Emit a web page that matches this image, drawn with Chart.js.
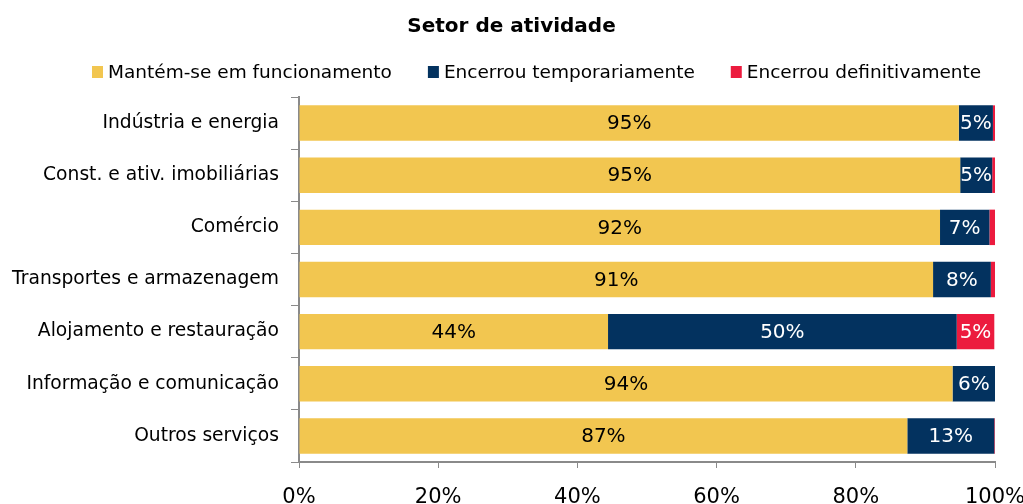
<!DOCTYPE html>
<html lang="pt">
<head>
  <meta charset="UTF-8" />
  <title>Setor de atividade</title>
  <script src="https://cdn.jsdelivr.net/npm/chart.js"></script>
  <style>
    html, body { margin: 0; padding: 0; background: #fff; }
    #wrap { width: 1023px; height: 504px; }
  </style>
</head>
<body>
<div id="wrap"><canvas id="grafico"></canvas></div>
<script>
  const setores = [
    "Indústria e energia",
    "Const. e ativ. imobiliárias",
    "Comércio",
    "Transportes e armazenagem",
    "Alojamento e restauração",
    "Informação e comunicação",
    "Outros serviços"
  ];
  const mantem = [94.8, 95.0, 92.1, 91.1, 44.4, 93.9, 87.4];
  const temporario = [4.9, 4.6, 7.1, 8.3, 50.1, 6.1, 12.5];
  const definitivo = [0.3, 0.4, 0.8, 0.6, 5.4, 0.0, 0.1];
  const ticksX = ["0%", "20%", "40%", "60%", "80%", "100%"];

  const fonte = '"DejaVu Sans", Verdana, sans-serif';

  // rótulos dentro das barras
  const rotulos = {
    id: "rotulos",
    afterDatasetsDraw(chart) {
      const ctx = chart.ctx;
      ctx.save();
      ctx.font = '20px ' + fonte;
      ctx.textAlign = 'center';
      ctx.textBaseline = 'middle';
      chart.data.datasets.forEach((ds, i) => {
        const meta = chart.getDatasetMeta(i);
        meta.data.forEach((bar, j) => {
          const v = ds.data[j];
          if (v < 3) return;
          const { x, y, base } = bar.getProps(['x', 'y', 'base'], true);
          ctx.fillStyle = i === 0 ? '#000' : '#fff';
          ctx.fillText(Math.round(v) + '%', (x + base) / 2, y + 1);
        });
      });
      ctx.restore();
    }
  };

  // legenda desenhada à mão (a do Chart.js fica muito larga)
  const legenda = {
    id: "legenda",
    afterDraw(chart) {
      const ctx = chart.ctx;
      ctx.save();
      ctx.font = '18.5px ' + fonte;
      ctx.textAlign = 'left';
      ctx.textBaseline = 'middle';
      let x = 92;
      const y = 72;
      chart.data.datasets.forEach(ds => {
        ctx.fillStyle = ds.backgroundColor;
        ctx.fillRect(x, y - 6, 11, 12);
        ctx.fillStyle = '#000';
        ctx.fillText(ds.label, x + 16, y + 1);
        x += 16 + ctx.measureText(ds.label).width + 36;
      });
      ctx.restore();
    }
  };

  new Chart(document.getElementById("grafico"), {
    type: "bar",
    data: {
      labels: setores,
      datasets: [
        { label: "Mantém-se em funcionamento", data: mantem, backgroundColor: "#F2C650" },
        { label: "Encerrou temporariamente", data: temporario, backgroundColor: "#03325F" },
        { label: "Encerrou definitivamente", data: definitivo, backgroundColor: "#EC1B3E" }
      ]
    },
    options: {
      indexAxis: "y",
      responsive: true,
      maintainAspectRatio: false,
      animation: false,
      datasets: { bar: { barPercentage: 0.68, categoryPercentage: 1, borderWidth: 0 } },
      layout: { padding: 0 },
      scales: {
        x: {
          stacked: true,
          min: 0,
          max: 100,
          ticks: {
            stepSize: 20,
            color: "#000",
            font: { size: 21, family: fonte },
            padding: 17,
            maxRotation: 0,
            callback: (v, i) => ticksX[i]
          },
          grid: { drawOnChartArea: false, tickLength: 6, color: "#8a8a8a" },
          border: { color: "#8a8a8a", width: 2 },
          afterFit(scale) { scale.height = 42; scale.paddingRight = 28; }
        },
        y: {
          stacked: true,
          ticks: {
            color: "#000",
            font: { size: 18.7, family: fonte },
            padding: 12
          },
          grid: { offset: true, drawOnChartArea: false, tickLength: 8, color: "#8a8a8a" },
          border: { color: "#8a8a8a", width: 2 },
          afterFit(scale) { scale.width = 299; }
        }
      },
      plugins: {
        title: {
          display: true,
          text: "Setor de atividade",
          color: "#000",
          font: { size: 20, weight: "bold", family: fonte },
          padding: { top: 15, bottom: 58 }
        },
        legend: { display: false },
        tooltip: { enabled: false }
      }
    },
    plugins: [rotulos, legenda]
  });
</script>
</body>
</html>
